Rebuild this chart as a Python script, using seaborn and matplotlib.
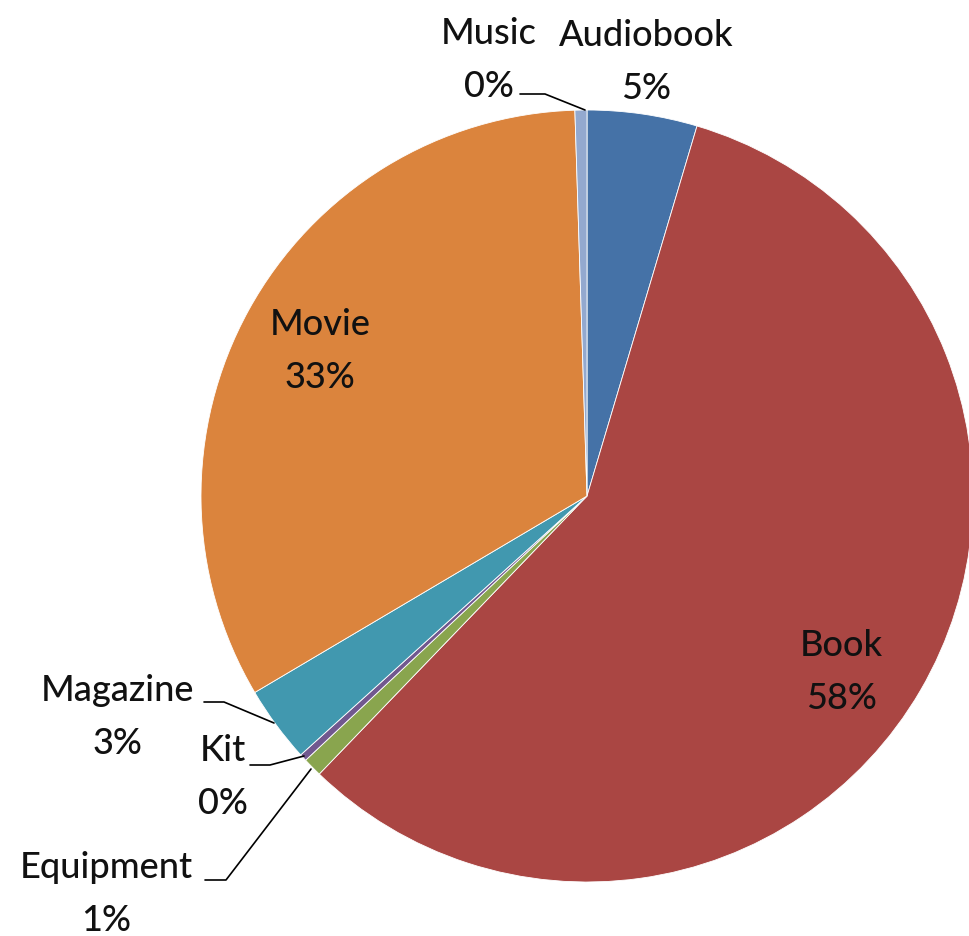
import matplotlib
matplotlib.use("Agg")
import matplotlib.pyplot as plt
import seaborn as sns

categories = ["Audiobook", "Book", "Equipment", "Kit", "Magazine", "Movie", "Music"]
values = [4.6, 57.6, 0.8, 0.3, 3.2, 33.0, 0.5]
pct_labels = ["5%", "58%", "1%", "0%", "3%", "33%", "0%"]
colors = ["#4572A7", "#AA4643", "#89A54E", "#71588F", "#4198AF", "#DB843D", "#93A9CF"]

sns.set_theme(style="white")
plt.rcParams['font.family'] = ['Lato', 'DejaVu Sans']
palette = sns.color_palette(colors)

W, H = 969, 937
fig = plt.figure(figsize=(W / 100, H / 100), dpi=100)
ax = fig.add_axes([0, 0, 1, 1])

cx, cy, r = 587, H - 497, 386
ax.pie(values, colors=palette, startangle=90, counterclock=False,
       center=(cx, cy), radius=r, frame=True,
       wedgeprops=dict(linewidth=0.6, edgecolor="white"))
ax.set_xlim(0, W)
ax.set_ylim(0, H)
ax.set_aspect("equal")
ax.axis("off")

def P(x, y):
    return x, H - y

# label positions in pixel coords (center of two-line block)
label_pos = {
    "Audiobook": (646, 62),
    "Book": (841, 672),
    "Equipment": (106, 894),
    "Kit": (223, 777),
    "Magazine": (117, 717),
    "Movie": (320, 351),
    "Music": (489, 60),
}
for cat, pct in zip(categories, pct_labels):
    x, y = label_pos[cat]
    ax.text(*P(x, y), f"{cat}\n{pct}", ha="center", va="center",
            fontsize=26, color="#111111", linespacing=1.75,
            fontweight="medium")

# leader lines
leaders = [
    [(520, 95), (545, 95), (585, 111)],
    [(204, 703), (224, 703), (274, 724)],
    [(250, 766), (270, 766), (304, 757)],
    [(205, 881), (226, 881), (311, 770)],
]
for pts in leaders:
    xs = [p[0] for p in pts]
    ys = [H - p[1] for p in pts]
    ax.plot(xs, ys, color="black", linewidth=1.2)

fig.savefig("out.png", dpi=100, facecolor="white")
